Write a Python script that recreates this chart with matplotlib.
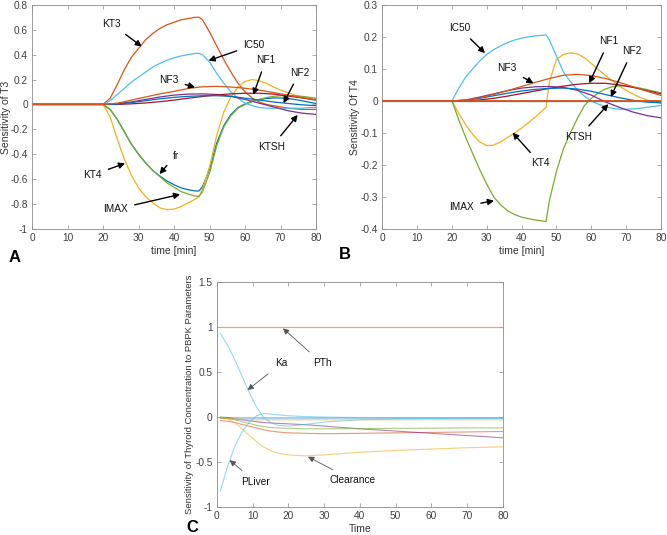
import numpy as np
import matplotlib
matplotlib.use('Agg')
import matplotlib.pyplot as plt
from matplotlib.ticker import FuncFormatter, MultipleLocator

plt.rcParams['font.family'] = ['Liberation Sans', 'DejaVu Sans']

# MATLAB default colour order
BLUE, ORANGE, YELLOW, PURPLE = '#0072BD', '#D95319', '#EDB120', '#7E2F8E'
GREEN, LBLUE, DRED = '#77AC30', '#4DBEEE', '#A2142F'

# ---------------------------------------------------------------
# data
# ---------------------------------------------------------------
t_ab = [0, 20, 22, 24, 26, 28, 30, 32, 34, 36, 38, 40, 42, 44, 46, 47, 48,
        50, 52, 54, 56, 58, 60, 62, 64, 66, 68, 70, 72, 74, 76, 78, 80]
t_small = [0, 20, 24, 28, 32, 36, 40, 44, 48, 52, 56, 60, 64, 68, 72, 76, 80]

# panel A: sensitivity of T3
a_fr = [0, 0, -0.04, -0.12, -0.22, -0.32, -0.40, -0.47, -0.53, -0.575, -0.615, -0.645, -0.67, -0.685, -0.695,
        -0.695, -0.66, -0.52, -0.31, -0.17, -0.08, -0.025, 0.005, 0.025, 0.04, 0.048, 0.052, 0.052, 0.048, 0.04,
        0.03, 0.018, 0.008]
a_kt3 = [0, 0, 0.05, 0.16, 0.28, 0.38, 0.45, 0.52, 0.57, 0.61, 0.64, 0.66, 0.68, 0.69, 0.70,
         0.70, 0.68, 0.58, 0.47, 0.36, 0.26, 0.17, 0.10, 0.05, 0.02, 0.0, -0.01, -0.02, -0.03, -0.035,
         -0.04, -0.04, -0.04]
a_kt4 = [0, 0, -0.10, -0.28, -0.44, -0.57, -0.67, -0.74, -0.79, -0.83, -0.845, -0.84, -0.82, -0.79, -0.76,
         -0.74, -0.68, -0.50, -0.25, -0.06, 0.06, 0.14, 0.185, 0.20, 0.19, 0.17, 0.14, 0.115, 0.095, 0.075,
         0.06, 0.05, 0.04]
a_imax = [0, 0, -0.04, -0.12, -0.22, -0.32, -0.40, -0.47, -0.53, -0.58, -0.63, -0.665, -0.70, -0.72, -0.735,
          -0.74, -0.70, -0.55, -0.33, -0.18, -0.09, -0.03, 0.0, 0.025, 0.04, 0.055, 0.065, 0.07, 0.072, 0.07,
          0.065, 0.058, 0.05]
a_ic50 = [0, 0, 0.03, 0.08, 0.13, 0.18, 0.22, 0.26, 0.30, 0.33, 0.355, 0.375, 0.39, 0.40, 0.41,
          0.41, 0.40, 0.34, 0.25, 0.17, 0.10, 0.05, 0.01, -0.01, -0.025, -0.03, -0.03, -0.03, -0.03, -0.03,
          -0.03, -0.025, -0.025]
a_ktsh = [0, 0, 0.005, 0.02, 0.04, 0.06, 0.075, 0.083, 0.085, 0.08, 0.065, 0.04, 0.01, -0.02, -0.05, -0.07, -0.08]
a_nf1 = [0, 0, 0.0, 0.005, 0.012, 0.022, 0.035, 0.05, 0.064, 0.076, 0.085, 0.09, 0.09, 0.083, 0.068, 0.052, 0.035]
a_nf2 = [0, 0, 0.003, 0.015, 0.03, 0.045, 0.057, 0.065, 0.07, 0.07, 0.065, 0.05, 0.035, 0.02, 0.008, -0.003, -0.01]
a_nf3 = [0, 0, 0.01, 0.035, 0.06, 0.085, 0.105, 0.128, 0.142, 0.145, 0.14, 0.13, 0.115, 0.095, 0.075, 0.055, 0.035]

# panel B: sensitivity of T4
b_fr = [0, 0, 0, 0, 0, 0, 0, 0, 0, 0, 0, 0, 0, 0, 0, 0, 0]
b_kt3 = [0, 0, 0, 0, 0, 0, 0, 0, 0, 0, 0, 0, 0, 0, 0, 0, 0]
b_kt4 = [0, 0, -0.04, -0.075, -0.105, -0.128, -0.14, -0.138, -0.128, -0.114, -0.10, -0.085, -0.068, -0.05, -0.03,
         -0.02, 0.06, 0.13, 0.145, 0.15, 0.147, 0.135, 0.117, 0.098, 0.08, 0.063, 0.047, 0.033, 0.021, 0.011,
         0.003, -0.003, -0.007]
b_imax = [0, 0, -0.06, -0.115, -0.165, -0.215, -0.26, -0.30, -0.325, -0.343, -0.355, -0.363, -0.368, -0.372, -0.375,
          -0.377, -0.31, -0.22, -0.15, -0.10, -0.055, -0.015, 0.008, 0.025, 0.037, 0.044, 0.047, 0.047, 0.044, 0.04,
          0.035, 0.03, 0.025]
b_ic50 = [0, 0, 0.04, 0.075, 0.10, 0.125, 0.145, 0.16, 0.172, 0.182, 0.19, 0.196, 0.20, 0.203, 0.205,
          0.206, 0.19, 0.14, 0.09, 0.06, 0.035, 0.015, 0.0, -0.01, -0.018, -0.023, -0.026, -0.026, -0.025, -0.023,
          -0.02, -0.017, -0.014]
b_ktsh = [0, 0, 0.003, 0.012, 0.022, 0.032, 0.04, 0.044, 0.045, 0.042, 0.033, 0.018, -0.003, -0.02, -0.035, -0.046, -0.053]
b_nf1 = [0, 0, 0.0, 0.003, 0.008, 0.015, 0.023, 0.031, 0.039, 0.046, 0.052, 0.055, 0.055, 0.05, 0.042, 0.032, 0.022]
b_nf2 = [0, 0, 0.002, 0.008, 0.016, 0.024, 0.031, 0.036, 0.039, 0.04, 0.037, 0.03, 0.02, 0.01, 0.002, -0.004, -0.006]
b_nf3 = [0, 0, 0.002, 0.01, 0.02, 0.032, 0.045, 0.058, 0.07, 0.08, 0.083, 0.079, 0.07, 0.058, 0.044, 0.03, 0.017]

# panel C: thyroid concentration vs PBPK parameters
t_c = [1, 3, 5, 7, 9, 11, 13, 15, 17, 20, 25, 30, 40, 50, 60, 70, 80]
c_pth = [1.0, 1.0, 1.0, 1.0, 1.0, 1.0, 1.0, 1.0, 1.0, 1.0, 1.0, 1.0, 1.0, 1.0, 1.0, 1.0, 1.0]
c_ka = [0.93, 0.80, 0.64, 0.46, 0.28, 0.12, 0.0, -0.06, -0.09, -0.10, -0.08, -0.055, -0.03, -0.02, -0.015, -0.01, -0.01]
c_pliver = [-0.82, -0.55, -0.33, -0.17, -0.06, 0.01, 0.04, 0.035, 0.025, 0.015, 0.005, 0.0, -0.005, -0.008, -0.01, -0.01, -0.01]
c_clearance = [0.0, -0.02, -0.06, -0.13, -0.20, -0.27, -0.33, -0.37, -0.40, -0.42, -0.43, -0.42, -0.39, -0.37, -0.355, -0.34, -0.33]
c_p1 = [-0.01, -0.01, -0.02, -0.03, -0.04, -0.05, -0.06, -0.065, -0.07, -0.075, -0.085, -0.10, -0.13, -0.155, -0.18, -0.205, -0.23]
c_p2 = [-0.04, -0.045, -0.06, -0.08, -0.10, -0.12, -0.14, -0.155, -0.165, -0.175, -0.18, -0.185, -0.18, -0.175, -0.17, -0.165, -0.16]
c_p3 = [-0.01, -0.015, -0.03, -0.05, -0.07, -0.09, -0.105, -0.115, -0.12, -0.125, -0.13, -0.13, -0.128, -0.125, -0.123, -0.12, -0.12]
c_p4 = [0.0, -0.005, -0.01, -0.01, -0.01, -0.01, -0.01, -0.01, -0.01, -0.01, -0.01, -0.01, -0.01, -0.01, -0.01, -0.01, -0.01]
c_p5 = [-0.01, -0.015, -0.02, -0.025, -0.03, -0.03, -0.03, -0.03, -0.03, -0.03, -0.03, -0.03, -0.03, -0.03, -0.03, -0.03, -0.03]

# ---------------------------------------------------------------
fig = plt.figure(figsize=(6.67, 5.35), dpi=100)
axA = fig.add_axes([0.048, 0.572, 0.426, 0.419])
axB = fig.add_axes([0.573, 0.572, 0.418, 0.419])
axC = fig.add_axes([0.325, 0.052, 0.429, 0.421])

fmt = FuncFormatter(lambda v, p: ('%g' % round(v, 6)).replace('\u2212', '-'))


def style(ax):
    for s in ax.spines.values():
        s.set_color('#8c8c8c')
        s.set_linewidth(0.6)
    ax.tick_params(direction='in', length=3, width=0.5, color='#8c8c8c',
                   labelsize=7.3, labelcolor='#404040', top=True, right=True, pad=3)
    ax.yaxis.set_major_formatter(fmt)
    ax.xaxis.set_major_formatter(fmt)


def arrow(ax, txt, xy, xytext, thin=False):
    if thin:
        props = dict(arrowstyle='-|>', color='#555555', lw=0.6, mutation_scale=9,
                     shrinkA=4, shrinkB=0)
    else:
        props = dict(arrowstyle='-|>', color='k', lw=1.0, mutation_scale=9,
                     shrinkA=3, shrinkB=0)
    ax.annotate(txt, xy=xy, xytext=xytext, fontsize=7.3, color='#111111',
                ha='center', va='center', arrowprops=props)


# panel A
for y, c in [(a_fr, BLUE), (a_kt3, ORANGE), (a_kt4, YELLOW), (a_imax, GREEN), (a_ic50, LBLUE)]:
    axA.plot(t_ab, y, color=c, lw=0.9)
for y, c in [(a_ktsh, PURPLE), (a_nf1, DRED), (a_nf2, BLUE), (a_nf3, ORANGE)]:
    axA.plot(t_small, y, color=c, lw=0.9)
axA.set_xlim(0, 80)
axA.set_ylim(-1, 0.8)
axA.xaxis.set_major_locator(MultipleLocator(10))
axA.yaxis.set_major_locator(MultipleLocator(0.2))
axA.set_xlabel('time [min]', fontsize=7.5, color='#333333', labelpad=2)
axA.set_ylabel('Sensitivity of T3', fontsize=7.5, color='#333333')
axA.yaxis.set_label_coords(-0.075, 0.5)
style(axA)
arrow(axA, 'KT3', (30.9, 0.465), (22.5, 0.645))
arrow(axA, 'IC50', (49.7, 0.352), (62.5, 0.478))
arrow(axA, 'NF3', (45.9, 0.138), (38.5, 0.197))
arrow(axA, 'NF1', (62.3, 0.077), (65.8, 0.355))
arrow(axA, 'NF2', (70.8, 0.01), (75.3, 0.255))
arrow(axA, 'KTSH', (74.8, -0.084), (67.5, -0.34))
arrow(axA, 'fr', (35.9, -0.559), (40.4, -0.41))
arrow(axA, 'KT4', (26.2, -0.473), (17.0, -0.567))
arrow(axA, 'IMAX', (41.7, -0.722), (23.5, -0.842))

# panel B
for y, c in [(b_kt4, YELLOW), (b_imax, GREEN), (b_ic50, LBLUE)]:
    axB.plot(t_ab, y, color=c, lw=0.9)
for y, c in [(b_fr, BLUE), (b_ktsh, PURPLE), (b_nf1, DRED), (b_nf2, BLUE), (b_nf3, ORANGE)]:
    axB.plot(t_small, y, color=c, lw=0.9)
axB.plot(t_small, b_kt3, color=ORANGE, lw=1.3, zorder=3)
axB.set_xlim(0, 80)
axB.set_ylim(-0.4, 0.3)
axB.xaxis.set_major_locator(MultipleLocator(10))
axB.yaxis.set_major_locator(MultipleLocator(0.1))
axB.set_xlabel('time [min]', fontsize=7.5, color='#333333', labelpad=2)
axB.set_ylabel('Sensitivity Of T4', fontsize=7.5, color='#333333')
axB.yaxis.set_label_coords(-0.08, 0.5)
style(axB)
arrow(axB, 'IC50', (29.5, 0.149), (22.2, 0.227))
arrow(axB, 'NF3', (43.4, 0.055), (35.9, 0.102))
arrow(axB, 'NF1', (59.4, 0.055), (65.0, 0.186))
arrow(axB, 'NF2', (65.6, 0.012), (71.7, 0.155))
arrow(axB, 'KTSH', (64.9, -0.01), (56.5, -0.112))
arrow(axB, 'KT4', (37.4, -0.099), (45.3, -0.195))
arrow(axB, 'IMAX', (32.1, -0.312), (22.8, -0.33))

# panel C
for y, c in [(c_p4, BLUE), (c_p2, ORANGE), (c_clearance, YELLOW), (c_p1, PURPLE),
             (c_p3, GREEN), (c_ka, LBLUE), (c_p5, YELLOW), (c_pliver, LBLUE)]:
    axC.plot(t_c, y, color=c, lw=0.8, alpha=0.6)
axC.plot(t_c, c_pth, color='#F08A60', lw=0.9, alpha=0.8)
axC.set_xlim(0, 80)
axC.set_ylim(-1, 1.5)
axC.xaxis.set_major_locator(MultipleLocator(10))
axC.yaxis.set_major_locator(MultipleLocator(0.5))
axC.set_xlabel('Time', fontsize=7.5, color='#333333', labelpad=2)
axC.set_ylabel('Sensitivity of Thyroid Concentration to PBPK Parameters',
               fontsize=6.8, color='#333333')
axC.yaxis.set_label_coords(-0.08, 0.5)
style(axC)
arrow(axC, 'PTh', (18.5, 0.985), (29.5, 0.596), thin=True)
arrow(axC, 'Ka', (8.6, 0.30), (18.1, 0.596), thin=True)
arrow(axC, 'PLiver', (3.6, -0.478), (10.8, -0.718), thin=True)
arrow(axC, 'Clearance', (25.5, -0.44), (38.0, -0.70), thin=True)

# panel letters
fig.text(15 / 667, 1 - 257 / 535, 'A', fontsize=12, fontweight='bold', ha='center', va='center')
fig.text(345 / 667, 1 - 255 / 535, 'B', fontsize=12, fontweight='bold', ha='center', va='center')
fig.text(192 / 667, 1 - 527 / 535, 'C', fontsize=12, fontweight='bold', ha='center', va='center')

fig.savefig('out.png', dpi=100)
